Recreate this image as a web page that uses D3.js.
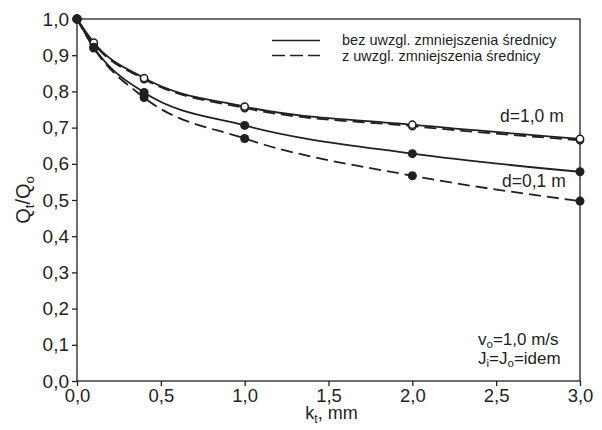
<!DOCTYPE html>
<html>
<head>
<meta charset="utf-8">
<script src="https://cdn.jsdelivr.net/npm/d3@7"></script>
<style>
  body { margin: 0; background: #fff; }
  text { font-family: "Liberation Sans", Arial, sans-serif; fill: #231f20; }
</style>
</head>
<body>
<div id="chart"></div>
<script>
// Data
const kt = [0, 0.1, 0.4, 1.0, 2.0, 3.0];
const d1Solid = [1.0, 0.935, 0.837, 0.758, 0.708, 0.669];
const d1Dashed = [1.0, 0.932, 0.834, 0.754, 0.704, 0.665];
const d01Solid = [1.0, 0.922, 0.797, 0.706, 0.628, 0.578];
const d01Dashed = [1.0, 0.92, 0.783, 0.67, 0.567, 0.497];
const xTicks = [0, 0.5, 1, 1.5, 2, 2.5, 3];
const yTicks = [0, 0.1, 0.2, 0.3, 0.4, 0.5, 0.6, 0.7, 0.8, 0.9, 1.0];

const margin = { top: 19, right: 22, bottom: 49, left: 77 },
  width = 602 - margin.left - margin.right,
  height = 430 - margin.top - margin.bottom;

const ink = "#231f20";
const fmt = (d) => d3.format(".1f")(d).replace(".", ",");

const svg = d3
  .select("#chart")
  .append("svg")
  .attr("width", 602)
  .attr("height", 430)
  .append("g")
  .attr("transform", `translate(${margin.left},${margin.top})`);

const x = d3.scaleLinear().domain([0, 3]).range([0, width]);
const y = d3.scaleLinear().domain([0, 1]).range([height, 0]);

// Frame
svg
  .append("rect")
  .attr("width", width)
  .attr("height", height)
  .attr("fill", "none")
  .attr("stroke", ink)
  .attr("stroke-width", 1.3);

// X axis
const xAxis = svg
  .append("g")
  .attr("transform", `translate(0,${height})`)
  .call(d3.axisBottom(x).tickValues(xTicks).tickFormat(fmt).tickSize(5).tickPadding(3));
xAxis.select(".domain").remove();
xAxis.selectAll("line").attr("stroke", ink).attr("stroke-width", 1.3);
xAxis.selectAll("text").style("font-size", "18.5px").attr("fill", ink);

// Y axis
const yAxis = svg
  .append("g")
  .call(d3.axisLeft(y).tickValues(yTicks).tickFormat(fmt).tickSize(5).tickPadding(3));
yAxis.select(".domain").remove();
yAxis.selectAll("line").attr("stroke", ink).attr("stroke-width", 1.3);
yAxis.selectAll("text").style("font-size", "19px").attr("fill", ink);

// Axis titles
const xt = svg
  .append("text")
  .attr("x", x(1.5) + 3)
  .attr("y", height + 38)
  .attr("text-anchor", "middle")
  .style("font-size", "18px");
xt.append("tspan").text("k");
xt.append("tspan").attr("dy", 4).style("font-size", "12px").text("t");
xt.append("tspan").attr("dy", -4).text(", mm");

const yt = svg
  .append("text")
  .attr("transform", `translate(${-47},${y(0.5)}) rotate(-90)`)
  .attr("text-anchor", "middle")
  .style("font-size", "20px");
yt.append("tspan").text("Q");
yt.append("tspan").attr("dy", 4).style("font-size", "13px").text("t");
yt.append("tspan").attr("dy", -4).text("/Q");
yt.append("tspan").attr("dy", 4).style("font-size", "13px").text("o");

// Series
const series = [
  { values: d1Dashed, dash: "12,6", open: true },
  { values: d01Dashed, dash: "12,6", open: false },
  { values: d1Solid, dash: null, open: true },
  { values: d01Solid, dash: null, open: false },
];

const line = d3
  .line()
  .x((d) => x(d[0]))
  .y((d) => y(d[1]))
  .curve(d3.curveMonotoneX);

series.forEach((s) => {
  const pts = kt.map((k, i) => [k, s.values[i]]);
  svg
    .append("path")
    .datum(pts)
    .attr("d", line)
    .attr("fill", "none")
    .attr("stroke", ink)
    .attr("stroke-width", 1.8)
    .attr("stroke-dasharray", s.dash);
});

series.forEach((s) => {
  const pts = kt.map((k, i) => [k, s.values[i]]);
  svg
    .append("g")
    .selectAll("circle")
    .data(pts)
    .enter()
    .append("circle")
    .attr("cx", (d) => x(d[0]))
    .attr("cy", (d) => y(d[1]))
    .attr("r", (d, i) => (s.open && i > 0 ? 3.6 : 4.5))
    .attr("fill", (d, i) => (s.open && i > 0 ? "#fff" : ink))
    .attr("stroke", ink)
    .attr("stroke-width", (d, i) => (s.open && i > 0 ? 1.5 : 0));
});

// Legend
const legend = [
  { label: "bez uwzgl. zmniejszenia średnicy", dash: null },
  { label: "z uwzgl. zmniejszenia średnicy", dash: "13,5" },
];
legend.forEach((l, i) => {
  const ly = 21.5 + i * 15;
  svg
    .append("line")
    .attr("x1", 195)
    .attr("x2", 243)
    .attr("y1", ly)
    .attr("y2", ly)
    .attr("stroke", ink)
    .attr("stroke-width", 1.7)
    .attr("stroke-dasharray", l.dash);
  svg
    .append("text")
    .attr("x", 265)
    .attr("y", ly - 0.5 + i)
    .attr("dy", "0.35em")
    .style("font-size", "14.5px")
    .text(l.label);
});

// Annotations
svg.append("text").attr("x", 423).attr("y", 103).style("font-size", "17.5px").text("d=1,0 m");
svg.append("text").attr("x", 425).attr("y", 168).style("font-size", "17.5px").text("d=0,1 m");

const a1 = svg.append("text").attr("x", 401).attr("y", 326).style("font-size", "17px");
a1.append("tspan").text("v");
a1.append("tspan").attr("dy", 3).style("font-size", "11.5px").text("o");
a1.append("tspan").attr("dy", -3).text("=1,0 m/s");

const a2 = svg.append("text").attr("x", 401).attr("y", 345).style("font-size", "17px");
a2.append("tspan").text("J");
a2.append("tspan").attr("dy", 3).style("font-size", "11.5px").text("i");
a2.append("tspan").attr("dy", -3).text("=J");
a2.append("tspan").attr("dy", 3).style("font-size", "11.5px").text("o");
a2.append("tspan").attr("dy", -3).text("=idem");
</script>
</body>
</html>
